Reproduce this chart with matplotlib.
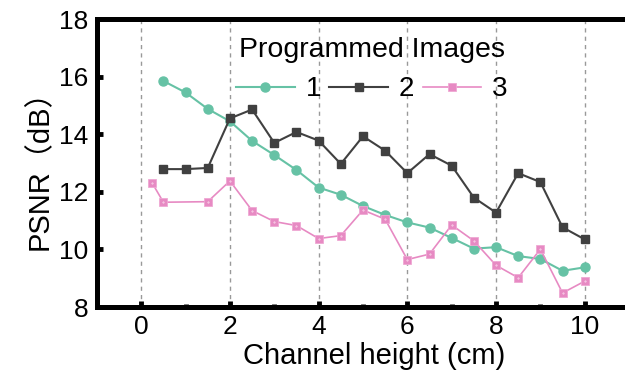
import numpy as np
import matplotlib.pyplot as plt
from matplotlib.ticker import MultipleLocator

plt.rcParams['font.family'] = ['Liberation Sans', 'Noto Sans CJK SC', 'DejaVu Sans']

# PSNR vs channel height for the three programmed images
x1 = [0.5, 1.0, 1.5, 2.0, 2.5, 3.0, 3.5, 4.0, 4.5, 5.0,
      5.5, 6.0, 6.5, 7.0, 7.5, 8.0, 8.5, 9.0, 9.5, 10.0]
psnr1 = [15.85, 15.45, 14.88, 14.45, 13.77, 13.28, 12.76, 12.15, 11.90, 11.51,
         11.20, 10.94, 10.76, 10.40, 10.03, 10.08, 9.77, 9.67, 9.26, 9.38]

x2 = x1
psnr2 = [12.79, 12.79, 12.83, 14.55, 14.86, 13.70, 14.08, 13.78, 12.97, 13.93,
         13.43, 12.65, 13.31, 12.91, 11.80, 11.28, 12.65, 12.34, 10.77, 10.35]

x3 = [0.25, 0.5, 1.5, 2.0, 2.5, 3.0, 3.5, 4.0, 4.5, 5.0,
      5.5, 6.0, 6.5, 7.0, 7.5, 8.0, 8.5, 9.0, 9.5, 10.0]
psnr3 = [12.30, 11.64, 11.66, 12.38, 11.35, 10.97, 10.83, 10.38, 10.48, 11.37,
         11.05, 9.65, 9.84, 10.85, 10.30, 9.45, 9.02, 10.01, 8.49, 8.90]

labels = ['1', '2', '3']

fig = plt.figure(figsize=(6.25, 3.81), dpi=100)
ax = fig.add_axes([0.155, 0.194, 0.887, 0.756])

ax.plot(x1, psnr1, color='#66c2a5', lw=1.5, marker='o', ms=6.5, label=labels[0], zorder=3)
ax.plot(x2, psnr2, color='#404040', lw=1.5, marker='s', ms=6, label=labels[1], zorder=4)
ax.plot(x3, psnr3, color='#e78ac3', lw=1.2, marker='s', ms=5.5,
        markerfacecolor='#e78ac3', markeredgecolor='#efa8d4', markeredgewidth=0.6,
        label=labels[2], zorder=5)
# tiny light dot in the centre of the pink squares
ax.plot(x3, psnr3, ls='none', marker='.', ms=0.8, color='#fde8f4', zorder=6)

ax.set_xlim(-1, 11.5)
ax.set_ylim(8, 18)
ax.xaxis.set_major_locator(MultipleLocator(2))
ax.xaxis.set_minor_locator(MultipleLocator(1))
ax.yaxis.set_major_locator(MultipleLocator(2))

ax.grid(axis='x', which='major', ls=(0, (3, 3)), color='#999999', lw=1)

for s in ax.spines.values():
    s.set_linewidth(3.6)
ax.tick_params(which='major', direction='in', length=4.5, width=3.5, labelsize=19, pad=6)
ax.tick_params(which='minor', direction='in', length=2, width=3.5)
ax.tick_params(axis='y', which='minor', left=False)

ax.set_xlabel('Channel height (cm)', fontsize=21, labelpad=2)
ax.set_ylabel('PSNR（dB）', fontsize=21, labelpad=4)

leg = ax.legend(title='Programmed Images', ncol=3, frameon=False, fontsize=20,
                title_fontsize=20.5, handlelength=2.1, handletextpad=0.4,
                columnspacing=0.3, borderpad=0.2,
                loc='upper center', bbox_to_anchor=(0.595, 0.955),
                bbox_transform=fig.transFigure)

fig.savefig('out.png', dpi=100)
